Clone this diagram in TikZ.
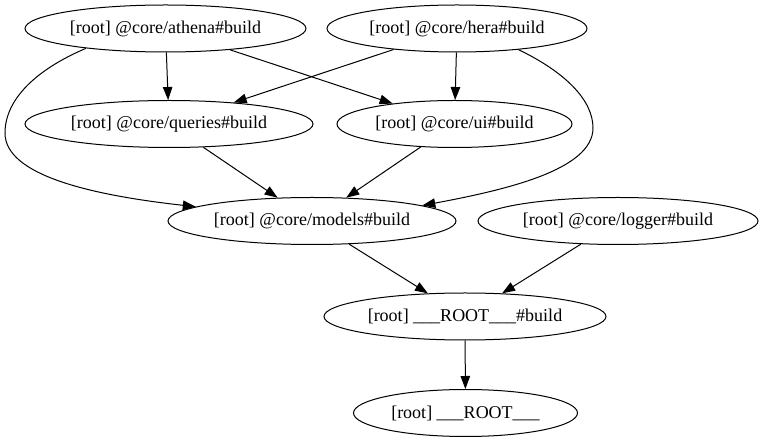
\documentclass[tikz,border=0pt]{standalone}
\usepackage{fontspec}
\setmainfont{Liberation Serif}
\usetikzlibrary{shapes.geometric,arrows.meta}
\begin{document}
\begin{tikzpicture}[x=1pt,y=-1pt,
  gnode/.style={draw,ellipse,line width=1pt,inner sep=0pt,minimum height=47pt,
    font=\fontsize{18}{20}\selectfont},
  edge/.style={line width=1pt,-{Triangle[length=13pt,width=9.5pt]}}]
\path[use as bounding box] (0,0) rectangle (764,443);
\node[gnode,minimum width=281pt] (athena) at (165.5,28.5) {[root] @core/athena\#build};
\node[gnode,minimum width=260pt] (hera) at (457,28.5) {[root] @core/hera\#build};
\node[gnode,minimum width=288pt] (queries) at (169,124) {[root] @core/queries\#build};
\node[gnode,minimum width=235pt] (ui) at (454.5,124) {[root] @core/ui\#build};
\node[gnode,minimum width=288pt] (models) at (312,221) {[root] @core/models\#build};
\node[gnode,minimum width=280pt] (logger) at (618,221) {[root] @core/logger\#build};
\node[gnode,minimum width=282pt] (rootb) at (465,316.5) {[root] \_\_\_ROOT\_\_\_\#build};
\node[gnode,minimum width=224pt] (root) at (465.5,413) {[root] \_\_\_ROOT\_\_\_};
\draw[edge] (athena) -- (queries);
\draw[edge] (athena) -- (ui);
\draw[edge] (hera) -- (queries);
\draw[edge] (hera) -- (ui);
\draw[edge] (queries) -- (models);
\draw[edge] (ui) -- (models);
\draw[edge] (models) -- (rootb);
\draw[edge] (logger) -- (rootb);
\draw[edge] (rootb) -- (root);
\draw[edge] (athena.194) .. controls (35,70) and (5,100) .. (5,133)
  .. controls (5,175) and (90,195) .. (models.173);
\draw[edge] (hera.341) .. controls (565,72) and (593,100) .. (593,128)
  .. controls (593,170) and (505,190) .. (models.8);
\end{tikzpicture}
\end{document}
